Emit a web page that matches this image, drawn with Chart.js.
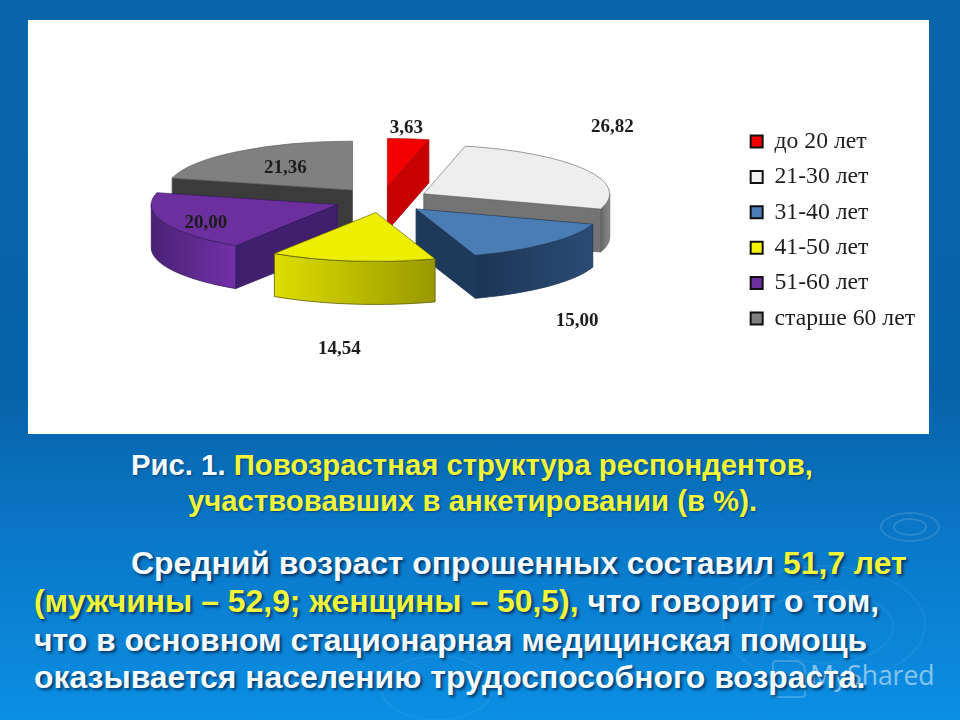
<!DOCTYPE html>
<html lang="ru"><head><meta charset="utf-8">
<script src="https://cdn.jsdelivr.net/npm/chart.js@4"></script>
<style>
html,body{margin:0;padding:0;width:960px;height:720px;overflow:hidden}
#slide{position:relative;width:960px;height:720px;overflow:hidden;
 background:linear-gradient(180deg,#0a64aa 0%,#0763a9 55%,#0a78c8 75%,#0b8fe4 100%)}
#panel{position:absolute;left:28px;top:20px;width:901px;height:414px;background:#fff}
#panel canvas{position:absolute;left:0;top:0}
.t{position:absolute;white-space:nowrap;font-family:"Liberation Sans",sans-serif;font-weight:bold;color:#f4fbff}
.y{color:#f2f63a}
.cap{font-size:29.3px;line-height:26px;text-shadow:1px 1px 2px rgba(0,30,70,.55)}
.body{font-size:31.9px;line-height:30px;text-shadow:2px 2px 3px rgba(0,25,60,.75)}
.ring{position:absolute;border:2px solid rgba(255,255,255,.05);border-radius:50%}
#wm{position:absolute;left:810px;top:657px;font:26.5px "Open Sans",sans-serif;color:rgba(255,255,255,.5)}
#icon{position:absolute;left:772px;top:660px;width:30px;height:34px;border:2px solid rgba(255,255,255,.2);border-radius:4px 10px 4px 4px}
</style></head><body>
<div id="slide">
 <div class="ring" style="left:880px;top:512px;width:56px;height:26px;border-color:rgba(255,255,255,.12)"></div>
 <div class="ring" style="left:893px;top:518px;width:30px;height:14px;border-color:rgba(255,255,255,.14)"></div>
 <div class="ring" style="left:722px;top:565px;width:200px;height:115px"></div>
 <div class="ring" style="left:760px;top:590px;width:130px;height:70px"></div>
 <div class="ring" style="left:380px;top:655px;width:110px;height:62px"></div>
 <div id="panel"><canvas id="c" width="901" height="414"></canvas></div>
 <div class="t cap" style="left:131px;top:452px">Рис. 1. <span class="y">Повозрастная структура респондентов,</span></div>
 <div class="t cap y" style="left:188px;top:488px">участвовавших в анкетировании (в %).</div>
 <div class="t body" style="left:131px;top:548px">Средний возраст опрошенных составил <span class="y">51,7 лет</span></div>
 <div class="t body" style="left:34px;top:586px"><span class="y">(мужчины – 52,9; женщины – 50,5),</span> что говорит о том,</div>
 <div class="t body" style="left:34px;top:625px">что в основном стационарная медицинская помощь</div>
 <div id="icon"></div>
 <div id="wm">MyShared</div>
 <div class="t body" style="left:34px;top:662px">оказывается населению трудоспособного возраста.</div>
</div>
<script>
const categories = ['до 20 лет','21-30 лет','31-40 лет','41-50 лет','51-60 лет','старше 60 лет'];
const shares = [3.63,26.82,15.00,14.54,20.00,21.36];
const shareLabels = ['3,63','26,82','15,00','14,54','20,00','21,36'];
const topColors = ['#f20000','#eeeeee','#4a7db4','#eeee00','#6b2f9e','#808080'];
const edgeColors = ['#a00000','#666666','#1c3555','#5a5a00','#35175e','#555555'];
const radialWallColors = ['#c80000','#747474','#1e3a5b','#a0a000','#3f1f6e','#3b3b3b'];
const outerWallLight = ['#d00000','#8a8a8a','#2a4c75','#dede00','#7330a8','#4a4a4a'];
const outerWallDark = ['#a00000','#666666','#1c3555','#989800','#4a2274','#333333'];
const legendBoxColors = ['#f20000','#f4f4f4','#4a7db4','#f4f400','#6b2f9e','#808080'];
const labelNudges = [[6.5,-30],[91.5,-52],[82,92],[-22.5,107],[-27.5,8],[1.5,1]];

const TILT = 0.263, EXPLODE = 48, DEPTH = 43, SHIFT_X = -1.5, SHIFT_Y = -30;

function project(el, a, r){
  return {x: el.x + SHIFT_X + (EXPLODE*Math.cos((el.startAngle+el.endAngle)/2) + r*Math.cos(a)),
          y: el.y + SHIFT_Y + TILT*(EXPLODE*Math.sin((el.startAngle+el.endAngle)/2) + r*Math.sin(a))};
}
function wallPoly(ctx, pts, fill, stroke){
  ctx.beginPath();
  pts.forEach((p,i)=> i? ctx.lineTo(p.x,p.y): ctx.moveTo(p.x,p.y));
  ctx.closePath(); ctx.fillStyle=fill; ctx.fill();
  ctx.lineWidth=.8; ctx.strokeStyle=stroke; ctx.stroke();
}
const pie3d = {
  id:'pie3d',
  beforeDatasetsDraw(chart){
    const ctx = chart.ctx, arcs = chart.getDatasetMeta(0).data;
    const order = arcs.map((el,i)=>i).sort((p,q)=>
      Math.sin((arcs[p].startAngle+arcs[p].endAngle)/2)-Math.sin((arcs[q].startAngle+arcs[q].endAngle)/2));
    order.forEach(i=>{
      const el = arcs[i], a1 = el.startAngle, a2 = el.endAngle, r = el.outerRadius;
      const tip = project(el,0,0), down = p=>({x:p.x,y:p.y+DEPTH});
      ctx.save();
      if(Math.cos(a1)<0){ const c=project(el,a1,r); wallPoly(ctx,[tip,c,down(c),down(tip)],radialWallColors[i],edgeColors[i]); }
      if(Math.cos(a2)>0){ const c=project(el,a2,r); wallPoly(ctx,[tip,c,down(c),down(tip)],radialWallColors[i],edgeColors[i]); }
      const lo = Math.max(a1,0), hi = Math.min(a2,Math.PI);
      if(hi>lo){
        const pts=[]; const n=40;
        for(let s=0;s<=n;s++) pts.push(project(el,lo+(hi-lo)*s/n,r));
        const g = ctx.createLinearGradient(pts[0].x,0,pts[n].x,0);
        g.addColorStop(i===3?1:0,outerWallLight[i]); g.addColorStop(i===3?0:1,outerWallDark[i]);
        wallPoly(ctx,pts.concat(pts.slice().reverse().map(down)),g,edgeColors[i]);
      }
      ctx.restore();
      ctx.save();
      ctx.translate(el.x+SHIFT_X, el.y+SHIFT_Y);
      ctx.scale(1,TILT);
      ctx.translate(-el.x,-el.y);
      const m=(a1+a2)/2;
      ctx.translate(EXPLODE*Math.cos(m),EXPLODE*Math.sin(m));
      el.draw(ctx);
      ctx.restore();
    });
    return false;
  },
  afterDraw(chart){
    const ctx = chart.ctx, arcs = chart.getDatasetMeta(0).data;
    ctx.save();
    ctx.font='bold 19px "Liberation Serif",serif';
    ctx.fillStyle='#1c1c1c'; ctx.textAlign='center'; ctx.textBaseline='middle';
    arcs.forEach((el,i)=>{
      const p = project(el,(el.startAngle+el.endAngle)/2,el.outerRadius*.6);
      ctx.fillText(shareLabels[i],p.x+labelNudges[i][0],p.y+labelNudges[i][1]);
    });
    ctx.restore();
  }
};
new Chart(document.getElementById('c'),{
  type:'pie',
  data:{labels:categories,datasets:[{data:shares,backgroundColor:topColors,borderColor:edgeColors,borderWidth:1,radius:186}]},
  options:{
    responsive:false,animation:false,
    events:[],
    layout:{padding:{left:0,right:4,top:6,bottom:0}},
    plugins:{
      tooltip:{enabled:false},
      legend:{position:'right',align:'center',
        labels:{boxWidth:12,boxHeight:12,padding:11.7,color:'#1e1e1e',
          font:{family:'"Liberation Serif",serif',size:23.7},
          generateLabels(chart){
            return Chart.overrides.pie.plugins.legend.labels.generateLabels(chart).map((it,i)=>
              Object.assign(it,{fillStyle:legendBoxColors[i],strokeStyle:'#111',lineWidth:2}));
          }}}
    }
  },
  plugins:[pie3d]
});
</script>
</body></html>
